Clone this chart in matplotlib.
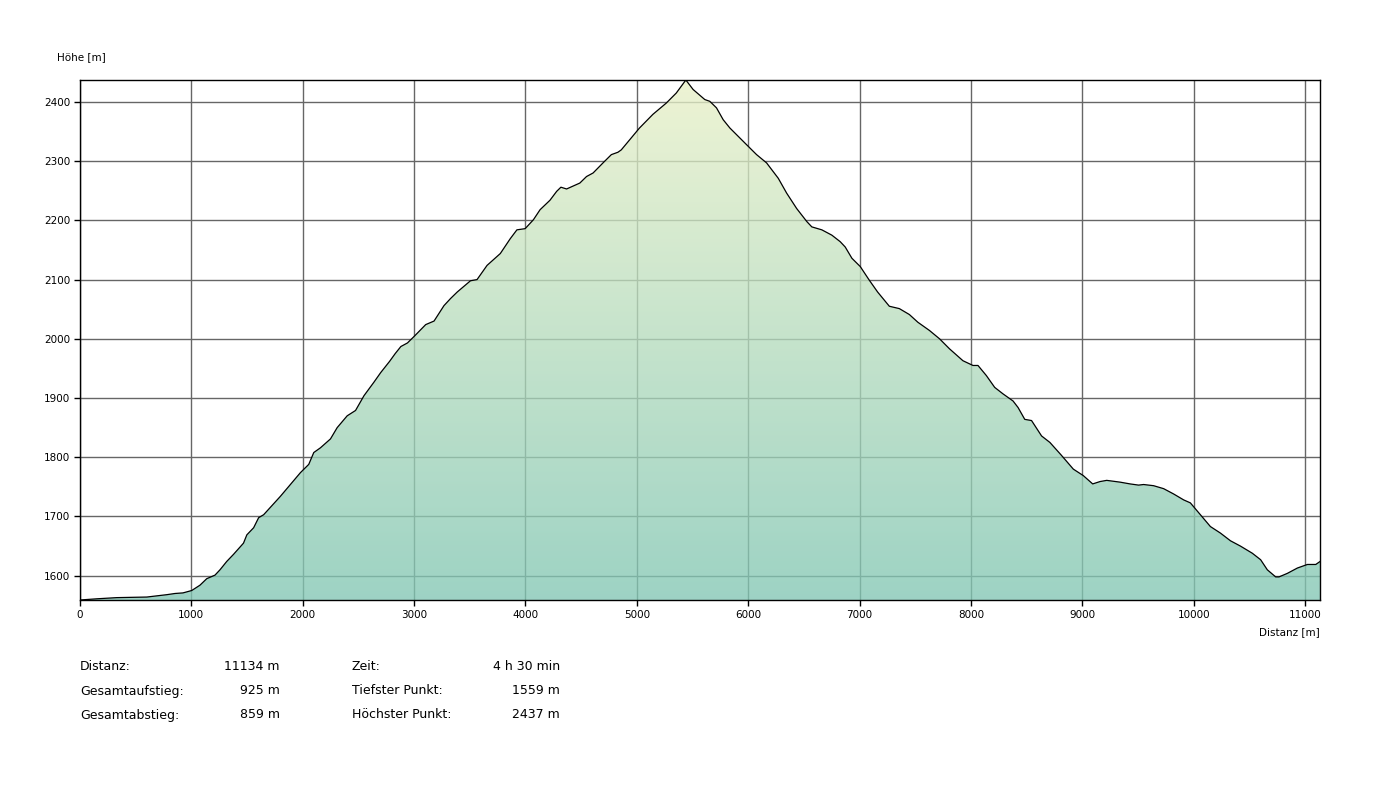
import matplotlib
matplotlib.use("Agg")
import matplotlib.pyplot as plt
import numpy as np
from matplotlib.colors import to_rgb

plt.rcParams.update({
    "font.family": "DejaVu Sans",
    "font.size": 7.5,
    "axes.edgecolor": "black",
    "xtick.color": "black",
    "ytick.color": "black",
})

# elevation profile
distance = [0, 150, 330, 600, 690, 780, 853, 925, 1003, 1077, 1138, 1212, 1257, 1317,
            1378, 1468, 1498, 1559, 1604, 1649, 1799, 1979, 2054, 2099, 2159, 2249,
            2309, 2399, 2474, 2550, 2640, 2700, 2780, 2830, 2881, 2940, 3000, 3104,
            3179, 3268, 3327, 3387, 3506, 3565, 3655, 3774, 3863, 3923, 3997, 4071,
            4131, 4220, 4280, 4318, 4369, 4488, 4548, 4607, 4696, 4771, 4830, 4860,
            5024, 5144, 5264, 5354, 5440, 5505, 5610, 5655, 5715, 5775, 5835, 5925,
            6000, 6075, 6165, 6270, 6345, 6435, 6526, 6571, 6661, 6751, 6826, 6871,
            6931, 7006, 7087, 7162, 7267, 7357, 7447, 7523, 7628, 7718, 7808, 7928,
            8018, 8063, 8138, 8213, 8288, 8378, 8423, 8483, 8544, 8634, 8709, 8809,
            8919, 9009, 9093, 9159, 9219, 9339, 9429, 9505, 9550, 9640, 9730, 9820,
            9910, 9970, 10060, 10150, 10240, 10330, 10420, 10526, 10601, 10661, 10736,
            10766, 10841, 10931, 11021, 11096, 11134]
elevation = [1559, 1561, 1563, 1564, 1566, 1568, 1570, 1571, 1575, 1584, 1595, 1601, 1610, 1624,
             1636, 1655, 1669, 1681, 1698, 1703, 1734, 1774, 1788, 1808, 1816, 1831,
             1850, 1870, 1879, 1904, 1927, 1943, 1962, 1975, 1987, 1993, 2004, 2024,
             2030, 2056, 2068, 2079, 2098, 2100, 2124, 2144, 2169, 2184, 2186, 2201,
             2218, 2234, 2249, 2256, 2253, 2263, 2274, 2280, 2297, 2311, 2315, 2319,
             2356, 2379, 2398, 2415, 2437, 2421, 2404, 2401, 2390, 2370, 2356, 2339,
             2325, 2311, 2297, 2271, 2246, 2220, 2198, 2189, 2184, 2175, 2164, 2155,
             2136, 2122, 2099, 2079, 2055, 2051, 2041, 2028, 2014, 2000, 1983, 1963,
             1955, 1955, 1938, 1918, 1907, 1895, 1884, 1864, 1862, 1836, 1825, 1804,
             1780, 1769, 1755, 1759, 1761, 1758, 1755, 1753, 1754, 1752, 1747, 1738,
             1728, 1723, 1703, 1683, 1672, 1659, 1650, 1638, 1627, 1610, 1598,
             1598, 1604, 1613, 1619, 1619, 1624]

x_ticks = list(range(0, 11001, 1000))
y_ticks = [1600, 1700, 1800, 1900, 2000, 2100, 2200, 2300, 2400]

stats_left = [("Distanz:", "11134 m"), ("Gesamtaufstieg:", "925 m"), ("Gesamtabstieg:", "859 m")]
stats_right = [("Zeit:", "4 h 30 min"), ("Tiefster Punkt:", "1559 m"), ("Höchster Punkt:", "2437 m")]

x_max = 11134
y_min, y_max = 1559, 2437

fig = plt.figure(figsize=(14, 8), dpi=100)
ax = fig.add_axes([80 / 1400, 200 / 800, 1240 / 1400, 520 / 800])
ax.set_xlim(0, x_max)
ax.set_ylim(y_min, y_max)

ax.set_axisbelow(True)
ax.grid(True, color="#666666", linewidth=1.0)
ax.set_xticks(x_ticks)
ax.set_yticks(y_ticks)
ax.tick_params(direction="out", length=4, width=1, pad=3, labelsize=7.5)
for sp in ax.spines.values():
    sp.set_linewidth(1.0)

# vertical gradient, semi transparent so grid shows through
alpha = 0.78
top = np.array(to_rgb("#eef4d4"))
bot = np.array(to_rgb("#9dd3c4"))
top = (top - (1 - alpha)) / alpha
bot = (bot - (1 - alpha)) / alpha
t = np.linspace(0, 1, 256)[:, None]
grad = top * (1 - t) + bot * t
img = np.zeros((256, 2, 4))
img[:, :, :3] = np.clip(grad[:, None, :], 0, 1)
img[:, :, 3] = alpha

poly = ax.fill_between(distance, elevation, y_min, color="none", lw=0)
im = ax.imshow(img, extent=[0, x_max, y_min, y_max], origin="upper",
               aspect="auto", zorder=1, interpolation="bilinear")
im.set_clip_path(poly.get_paths()[0], transform=ax.transData)
ax.plot(distance, elevation, color="black", linewidth=0.9, zorder=3)

fig.text(57 / 1400, 1 - 57 / 800, "Höhe [m]", fontsize=7.5, ha="left", va="center")
fig.text(1320 / 1400, 1 - 632 / 800, "Distanz [m]", fontsize=7.5, ha="right", va="center")

row_y = [667, 691, 715]
for i, (lab, val) in enumerate(stats_left):
    fig.text(80 / 1400, 1 - row_y[i] / 800, lab, fontsize=9, ha="left", va="center")
    fig.text(280 / 1400, 1 - row_y[i] / 800, val, fontsize=9, ha="right", va="center")
for i, (lab, val) in enumerate(stats_right):
    fig.text(352 / 1400, 1 - row_y[i] / 800, lab, fontsize=9, ha="left", va="center")
    fig.text(560 / 1400, 1 - row_y[i] / 800, val, fontsize=9, ha="right", va="center")

fig.savefig("out.png", dpi=100, facecolor="white")
